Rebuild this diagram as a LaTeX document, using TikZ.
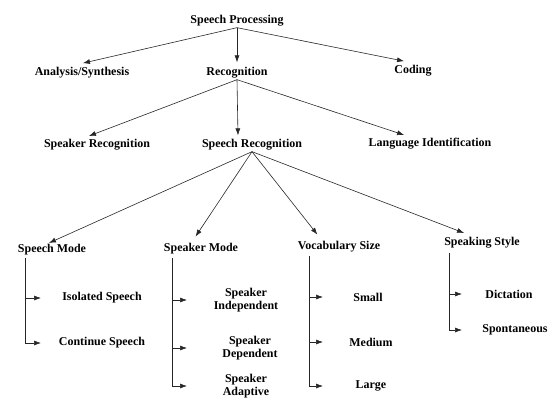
\documentclass[tikz,border=0pt]{standalone}
\usepackage{fontspec}
\setmainfont{Liberation Serif}
\usetikzlibrary{arrows.meta}
\begin{document}
\begin{tikzpicture}[
  x=1bp, y=-1bp,
  every node/.style={font=\fontsize{12}{13.5}\selectfont\bfseries,inner sep=1pt},
  leaf/.style={align=center},
  arr/.style={-{Latex[length=7pt,width=5pt]},line width=0.6pt,black!85,shorten >=1pt}
]
\useasboundingbox (0,0) rectangle (554,400);
\node (sp) at (237,21) {Speech Processing};
\node (ana) at (82,73) {Analysis/Synthesis};
\node (rec) at (237,73) {Recognition};
\node (cod) at (413,71) {Coding};
\node (spkr) at (97,145) {Speaker Recognition};
\node (sr) at (252,145) {Speech Recognition};
\node (lid) at (430,144) {Language Identification};
\node (sm) at (52,250) {Speech Mode};
\node (km) at (201,249) {Speaker Mode};
\node (vs) at (339,247) {Vocabulary Size};
\node (ss) at (482,243) {Speaking Style};
\node (iso) at (102,298) {Isolated Speech};
\node (con) at (102,343) {Continue Speech};
\node[leaf] (ind) at (246,300) {Speaker\\Independent};
\node[leaf] (dep) at (250,348) {Speaker\\Dependent};
\node[leaf] (ada) at (246,386) {Speaker\\Adaptive};
\node (sml) at (368,297) {Small};
\node (med) at (371,342) {Medium};
\node (lrg) at (371,386) {Large};
\node (dic) at (509,294) {Dictation};
\node (spo) at (515,330) {Spontaneous};
% tree arrows
\draw[arr] (sp.south) -- ([shift={(0,-3)}]ana.north);
\draw[arr] (sp.south) -- ([shift={(0,-3)}]rec.north);
\draw[arr] (sp.south) -- ([shift={(-8,-3)}]cod.north);
\draw[arr] (rec.south) -- ([shift={(-9,-2)}]spkr.north);
\draw[arr] (rec.south) -- ([shift={(-14,-2)}]sr.north);
\draw[arr] (rec.south) -- ([shift={(-25,-2)}]lid.north);
\draw[arr] (sr.south) -- ([shift={(-4,0)}]sm.north);
\draw[arr] (sr.south) -- ([shift={(-6,-5)}]km.north);
\draw[arr] (sr.south) -- ([shift={(-21,-5)}]vs.north);
\draw[arr] (sr.south) -- ([shift={(-17,-3)}]ss.north);
% branch lists
\coordinate (smtop) at (25,258);
\coordinate (kmtop) at (172,258);
\coordinate (vstop) at (309,256);
\coordinate (sstop) at (449,253);
\coordinate (smtip) at (42,0);
\coordinate (kmtip) at (188,0);
\coordinate (vstip) at (324,0);
\coordinate (sstip) at (463,0);
\foreach \leaf in {iso,con}
  \draw[arr] (smtop) |- (\leaf.west -| smtip);
\foreach \leaf in {ind,dep,ada}
  \draw[arr] (kmtop) |- (\leaf.west -| kmtip);
\foreach \leaf in {sml,med,lrg}
  \draw[arr] (vstop) |- (\leaf.west -| vstip);
\foreach \leaf in {dic,spo}
  \draw[arr] (sstop) |- (\leaf.west -| sstip);
\end{tikzpicture}
\end{document}
